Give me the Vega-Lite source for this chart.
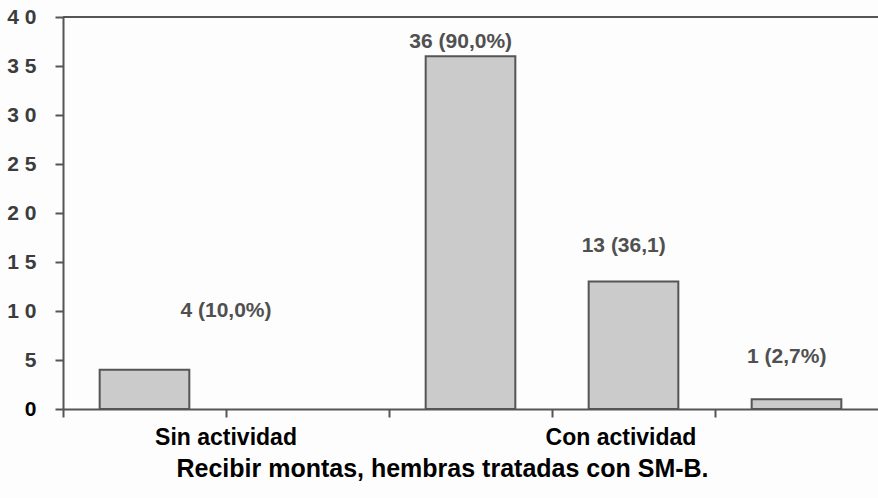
{
  "$schema": "https://vega.github.io/schema/vega-lite/v6.json",
  "autosize": {"type": "none"},
  "padding": {"left": 63, "top": 17, "right": 0, "bottom": 89},
  "width": 815,
  "height": 392,
  "background": "#fdfdfd",
  "config": {
    "view": {"stroke": null},
    "font": "Liberation Sans",
    "axis": {"grid": false, "domainColor": "#555", "domainWidth": 2, "tickColor": "#555", "tickWidth": 2, "tickSize": 8}
  },
  "datasets": {
    "bars": [
      {"cat": "A", "value": 4},
      {"cat": "C", "value": 36},
      {"cat": "D", "value": 13},
      {"cat": "E", "value": 1}
    ],
    "labels": [
      {"cat": "B", "y": 10, "text": "4 (10,0%)", "pos": "edge"},
      {"cat": "C", "y": 37.5, "text": "36 (90,0%)", "pos": "mid"},
      {"cat": "D", "y": 16.6, "text": "13 (36,1)", "pos": "mid"},
      {"cat": "E", "y": 5.3, "text": "1 (2,7%)", "pos": "mid"}
    ]
  },
  "layer": [
    {
      "data": {"name": "bars"},
      "mark": {"type": "bar", "fill": "#cbcbcb", "stroke": "#555", "strokeWidth": 2, "width": {"band": 0.55}},
      "encoding": {
        "x": {
          "field": "cat", "type": "nominal",
          "scale": {"domain": ["A", "B", "C", "D", "E"], "paddingInner": 0, "paddingOuter": 0},
          "axis": {
            "bandPosition": 0,
            "labelExpr": "datum.value=='B' ? 'Sin actividad' : datum.value=='D' ? 'Con actividad' : ''",
            "labelOffset": {"condition": {"test": "datum.value=='B'", "value": -81.5}, "value": -12.5},
            "labelOverlap": false,
            "labelBound": false,
            "labelAngle": 0,
            "labelFont": "Liberation Sans",
            "labelFontSize": 23,
            "labelFontWeight": "bold",
            "labelColor": "#000",
            "labelBaseline": "alphabetic",
            "labelPadding": 27,
            "title": "Recibir montas, hembras tratadas con SM-B.",
            "titleFont": "Liberation Sans",
            "titleFontSize": 25,
            "titleFontWeight": "bold",
            "titleColor": "#000",
            "titleX": 379,
            "titleY": 67,
            "titleAlign": "center",
            "titleBaseline": "alphabetic"
          }
        },
        "y": {
          "field": "value", "type": "quantitative",
          "scale": {"domain": [0, 40], "nice": false},
          "axis": {
            "values": [0, 5, 10, 15, 20, 25, 30, 35, 40],
            "title": null,
            "labelExpr": "join(split(datum.label, ''), ' ')",
            "labelFont": "Liberation Sans",
            "labelFontSize": 21,
            "labelFontWeight": "bold",
            "labelColor": {"condition": {"test": "datum.value==0", "value": "#000"}, "value": "#3c3c3c"},
            "labelPadding": 19
          }
        }
      }
    },
    {
      "data": {"name": "bars"},
      "mark": {"type": "rule", "color": "#555", "strokeWidth": 2},
      "encoding": {"y": {"datum": 40}}
    },
    {
      "data": {"name": "labels"},
      "transform": [{"filter": "datum.pos=='edge'"}],
      "mark": {"type": "text", "fontSize": 21, "fontWeight": "bold", "color": "#505050", "baseline": "middle", "align": "center"},
      "encoding": {
        "x": {"field": "cat", "type": "nominal", "bandPosition": 0},
        "y": {"field": "y", "type": "quantitative"},
        "text": {"field": "text"}
      }
    },
    {
      "data": {"name": "labels"},
      "transform": [{"filter": "datum.pos=='mid'"}],
      "mark": {"type": "text", "fontSize": 21, "fontWeight": "bold", "color": "#505050", "baseline": "middle", "align": "center"},
      "encoding": {
        "x": {"field": "cat", "type": "nominal", "bandPosition": 0.44},
        "y": {"field": "y", "type": "quantitative"},
        "text": {"field": "text"}
      }
    }
  ]
}
